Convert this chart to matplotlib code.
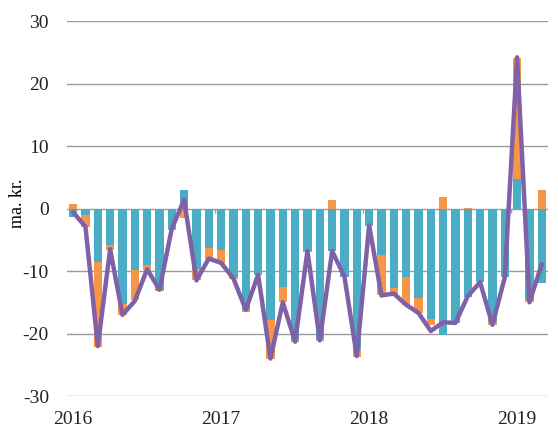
import numpy as np
import matplotlib
matplotlib.use("Agg")
import matplotlib.pyplot as plt

plt.rcParams['font.family'] = ['Liberation Serif', 'DejaVu Serif']
plt.rcParams['axes.unicode_minus'] = False

# monthly values, Jan 2016 - Mar 2019 (ma. kr.)
teal = [-1.4, -1.1, -8.6, -5.9, -15.3, -9.8, -9.1, -13.0, -3.2, 2.9, -9.6, -6.3,
        -6.6, -11.0, -16.3, -10.6, -17.8, -12.6, -21.0, -6.8, -20.9, -6.8, -10.9, -22.4,
        -2.7, -7.5, -12.7, -10.9, -14.3, -17.7, -20.3, -18.3, -14.2, -11.8, -18.2, -11.0,
        4.7, -14.7, -11.9]
orange = [0.8, -1.8, -13.6, -0.7, -1.8, -4.9, -0.7, -0.2, -0.2, -1.5, -1.9, -1.7,
          -2.2, -0.2, -0.2, -0.1, -6.2, -2.4, -0.4, -0.1, -0.3, 1.3, -0.1, -1.3,
          -0.1, -6.4, -0.9, -4.5, -2.4, -1.0, 1.9, 0.0, 0.1, 0.0, -0.4, 0.0,
          19.4, -0.3, 3.0]
total = [-0.6, -2.9, -22.0, -6.5, -17.0, -14.8, -9.7, -13.0, -3.2, 1.4, -11.5, -8.0,
         -8.7, -11.2, -16.2, -10.6, -24.0, -15.0, -21.3, -6.8, -21.1, -6.8, -10.9, -23.6,
         -2.7, -13.9, -13.6, -15.4, -16.7, -19.6, -18.2, -18.3, -14.0, -11.8, -18.6, -11.0,
         24.2, -15.0, -8.9]
year_labels = ["2016", "2017", "2018", "2019"]

teal = np.array(teal)
orange = np.array(orange)
x = np.arange(len(teal))

fig = plt.figure(figsize=(5.58, 4.30), dpi=100)
ax = fig.add_axes([0.120, 0.079, 0.862, 0.872])

# Excel-style stacking: positives and negatives stack separately
pos = np.zeros(len(x))
neg = np.zeros(len(x))
for vals, col in [(teal, "#4bacc6"), (orange, "#f79646")]:
    bottom = np.where(vals >= 0, pos, neg)
    ax.bar(x, vals, bottom=bottom, width=0.66, color=col, zorder=2)
    pos = pos + np.clip(vals, 0, None)
    neg = neg + np.clip(vals, None, 0)

ax.plot(x, total, color="#7f61a7", lw=3.2, zorder=3, solid_joinstyle="round",
        solid_capstyle="round")

for y in range(-30, 31, 10):
    ax.axhline(y, color="#9a9a9a", lw=1.0, zorder=1)
ax.vlines(np.arange(11.5, len(x), 12), -0.7, 0, color="#9a9a9a", lw=1.0, zorder=1)

ax.set_xlim(-0.5, len(x) - 0.5)
ax.set_ylim(-30, 30)
ax.set_yticks(range(-30, 31, 10))
ax.set_xticks(np.arange(0, len(x), 12))
ax.set_xticklabels(year_labels)
ax.tick_params(axis="both", length=0, labelsize=14, colors="#222222")
ax.tick_params(axis="y", pad=13)
ax.tick_params(axis="x", pad=11)
for s in ax.spines.values():
    s.set_visible(False)
ax.set_ylabel("ma. kr.", fontsize=13, va="center")
ax.yaxis.set_label_coords(-0.102, 0.515)

fig.savefig("out.png", dpi=100)
